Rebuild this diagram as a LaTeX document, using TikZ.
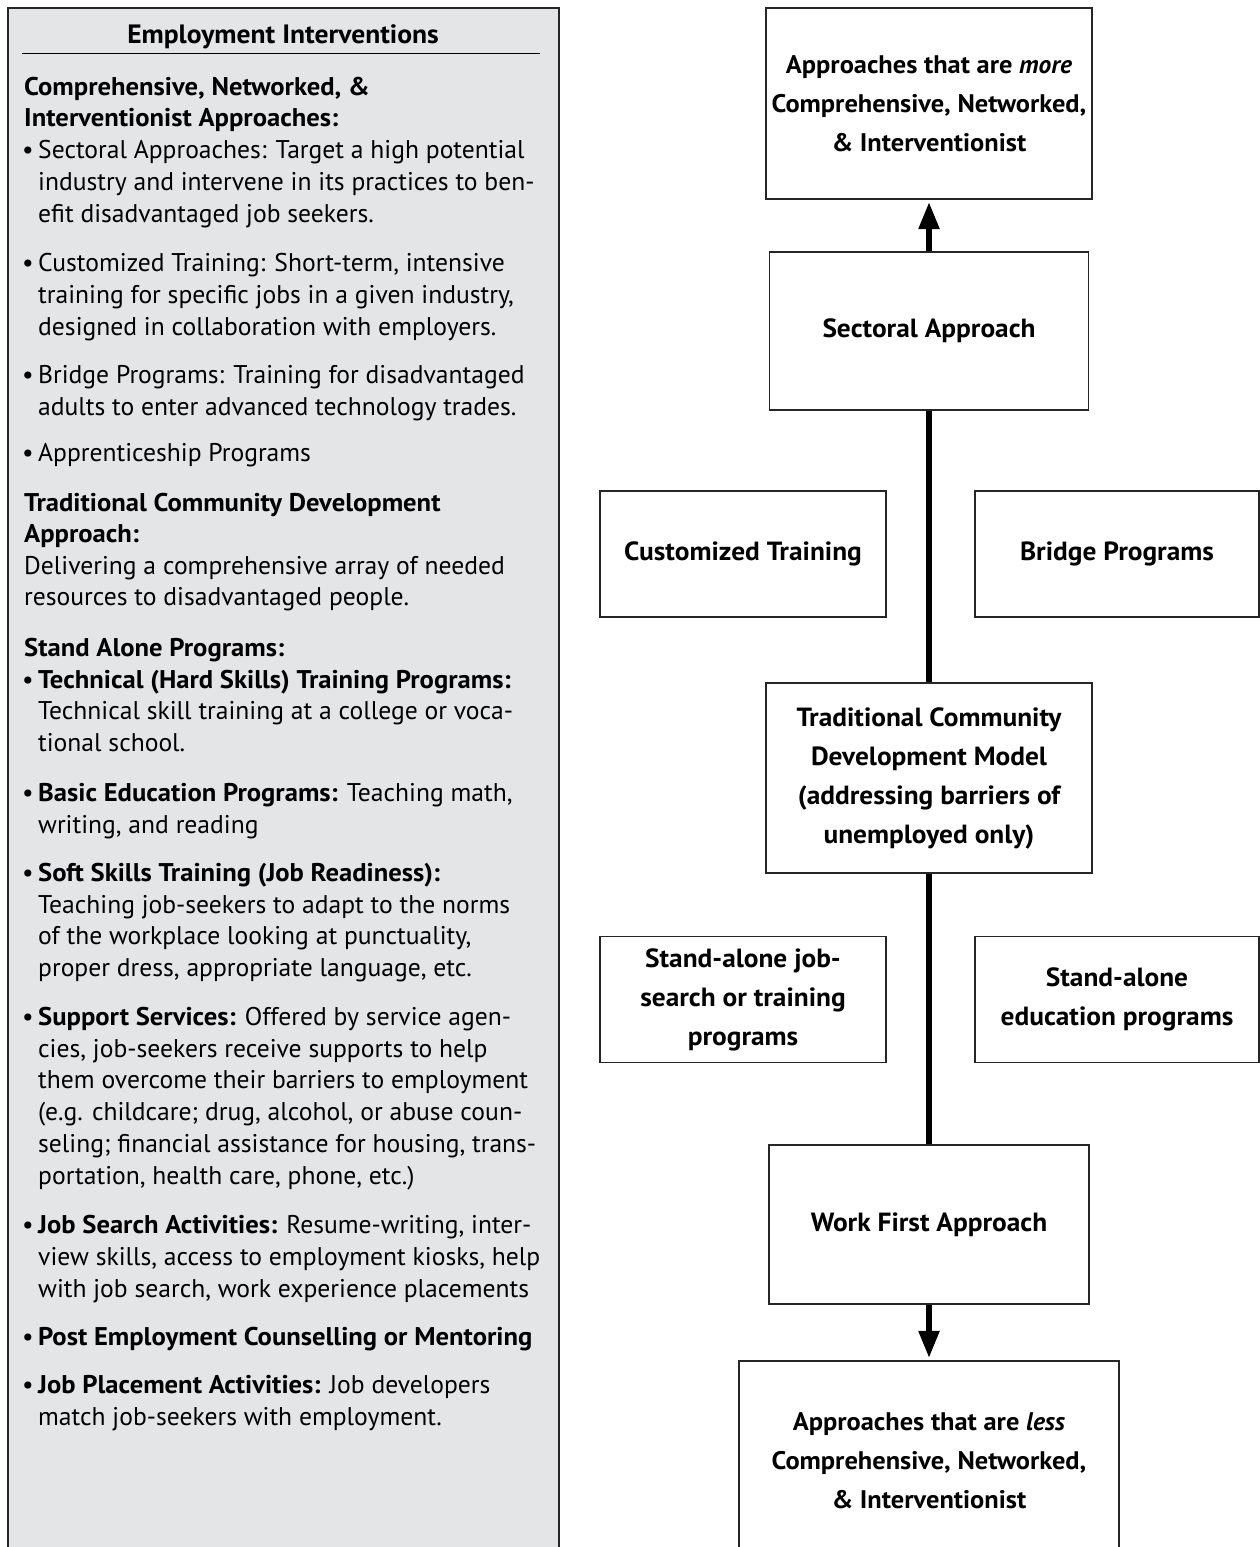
\documentclass[tikz,border=0pt]{standalone}
\usepackage{fontspec}
\setmainfont{PT Sans}[BoldFeatures={FakeStretch=1.04}]
\usetikzlibrary{arrows.meta}
\definecolor{panelgray}{RGB}{228,229,231}
\newcommand\lbul{\makebox[16pt][l]{•}}
\newcommand\lftfont{\fontsize{25.6}{31}\selectfont}
\newcommand\bxfont{\fontsize{26.3}{39}\selectfont\bfseries}
\newcommand\xtrmfont{\fontsize{25.4}{39}\selectfont\bfseries}
\tikzset{
  panelbox/.style={draw=black!85, line width=1.8pt, fill=panelgray, anchor=north west, inner sep=0pt},
  lft/.style={anchor=base west, inner sep=0pt, font=\lftfont},
  bx/.style={draw=black!85, line width=1.3pt, fill=white, align=center, inner sep=0pt, font=\bxfont},
  xtrmbx/.style={bx, font=\xtrmfont},
  spine/.style={line width=5.5pt, draw=black},
  bigtip/.style={-{Triangle[width=20pt,length=27pt]}, shorten >=2.5pt}
}
\begin{document}
\begin{tikzpicture}[x=1pt,y=-1pt]
\useasboundingbox (0,0) rectangle (1260,1547);
\fill[white] (0,0) rectangle (1260,1547);
% left panel
\node[panelbox, minimum width=551pt, minimum height=1560pt] (panel) at (7,7) {};
\node[anchor=base, inner sep=0pt, font=\fontsize{26.5}{31}\selectfont\bfseries] (title) at (283,43) {Employment Interventions};
\draw[line width=1pt] (22,53) -- (540,53);
\foreach \yy/\xx/\tt [count=\i] in {
 95/24/{\bfseries Comprehensive, Networked, \&},
 126/24/{\bfseries Interventionist Approaches:},
 158/22/{\lbul Sectoral Approaches: Target a high potential},
 190/38/{industry and intervene in its practices to ben-},
 222/38/{efit disadvantaged job seekers.},
 271/22/{\lbul Customized Training: Short-term, intensive},
 303/38/{training for specific jobs in a given industry,},
 335/38/{designed in collaboration with employers.},
 383/22/{\lbul Bridge Programs: Training for disadvantaged},
 415/38/{adults to enter advanced technology trades.},
 461/22/{\lbul Apprenticeship Programs},
 511/24/{\bfseries Traditional Community Development},
 542/24/{\bfseries Approach:},
 574/24/{Delivering a comprehensive array of needed},
 605/24/{resources to disadvantaged people.},
 656/24/{\bfseries Stand Alone Programs:},
 688/22/{\lbul\textbf{Technical (Hard Skills) Training Programs:}},
 719/38/{Technical skill training at a college or voca-},
 751/38/{tional school.},
 801/22/{\lbul\textbf{Basic Education Programs:} Teaching math,},
 833/38/{writing, and reading},
 881/22/{\lbul\textbf{Soft Skills Training (Job Readiness):}},
 913/38/{Teaching job-seekers to adapt to the norms},
 944/38/{of the workplace looking at punctuality,},
 976/38/{proper dress, appropriate language, etc.},
 1025/22/{\lbul\textbf{Support Services:} Offered by service agen-},
 1057/38/{cies, job-seekers receive supports to help},
 1088/38/{them overcome their barriers to employment},
 1120/38/{(e.g. childcare; drug, alcohol, or abuse coun-},
 1152/38/{seling; financial assistance for housing, trans-},
 1184/38/{portation, health care, phone, etc.)},
 1233/22/{\lbul\textbf{Job Search Activities:} Resume-writing, inter-},
 1265/38/{view skills, access to employment kiosks, help},
 1297/38/{with job search, work experience placements},
 1345/22/{\lbul\textbf{Post Employment Counselling or Mentoring}},
 1393/22/{\lbul\textbf{Job Placement Activities:} Job developers},
 1425/38/{match job-seekers with employment.}}
 { \node[lft] (line\i) at (\xx,\yy) {\tt}; }
% right boxes
\node[xtrmbx, minimum width=326pt, minimum height=191pt] (top) at (929,103.5)
  {Approaches that are \textit{more}\\Comprehensive, Networked,\\\& Interventionist};
\node[bx, minimum width=319pt, minimum height=158pt] (sect) at (929,331) {Sectoral Approach};
\node[bx, minimum width=286pt, minimum height=126pt] (cust) at (743,554) {Customized Training};
\node[bx, minimum width=284pt, minimum height=126pt] (bridge) at (1117,554) {Bridge Programs};
\node[bx, minimum width=326pt, minimum height=190pt] (trad) at (929,778)
  {Traditional Community\\Development Model\\(addressing barriers of\\unemployed only)};
\node[bx, minimum width=286pt, minimum height=126pt] (sajob) at (743,999.5)
  {Stand-alone job-\\search or training\\programs};
\node[bx, minimum width=284pt, minimum height=126pt] (saedu) at (1117,999.5)
  {Stand-alone\\education programs};
\node[bx, minimum width=320pt, minimum height=159pt] (work) at (929,1224.5) {Work First Approach};
\node[xtrmbx, minimum width=380pt, minimum height=200pt] (bottom) at (929,1461)
  {Approaches that are \textit{less}\\Comprehensive, Networked,\\\& Interventionist};
% spine
\draw[spine, bigtip] (sect.north) -- (top.south);
\draw[spine] (sect.south) -- (trad.north);
\draw[spine] (trad.south) -- (work.north);
\draw[spine, bigtip] (work.south) -- (bottom.north);
\end{tikzpicture}
\end{document}
